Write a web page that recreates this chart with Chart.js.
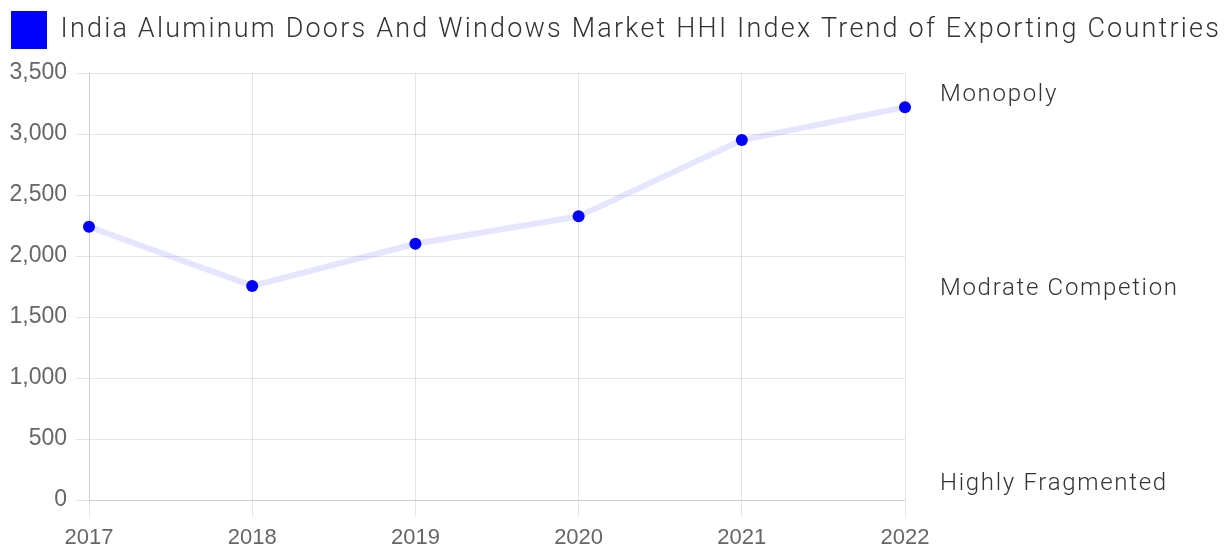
<!DOCTYPE html>
<html>
<head>
<meta charset="utf-8">
<script src="https://cdn.jsdelivr.net/npm/chart.js@4/dist/chart.umd.min.js"></script>
<style>
  body { margin: 0; background: #fff; }
  #wrap { width: 1227px; height: 549px; }
</style>
</head>
<body>
<div id="wrap"><canvas id="hhi-chart"></canvas></div>
<script>
const years = ['2017', '2018', '2019', '2020', '2021', '2022'];
const hhiValues = [2240, 1755, 2100, 2325, 2950, 3220];
const seriesLabel = 'India Aluminum Doors And Windows Market HHI Index Trend of Exporting Countries';
const levelTicks = [130, 1730, 3320];
const levelLabels = ['Highly Fragmented', 'Modrate Competion', 'Monopoly'];

// run a draw function with canvas letter spacing on
const spaced = (obj, name, spacing) => {
    const orig = obj[name];
    obj[name] = function () {
        const ctx = this.ctx;
        const old = ctx.letterSpacing;
        ctx.letterSpacing = spacing;
        orig.apply(this, arguments);
        ctx.letterSpacing = old;
    };
};

const textTweaks = {
    id: 'textTweaks',
    beforeInit(chart) {
        const fit = chart.legend.fit;
        chart.legend.fit = function () {
            fit.call(this);
            this.height += 14;
        };
        spaced(chart.legend, 'draw', '2.2px');
    },
    afterUpdate(chart) {
        const s = chart.scales.y1;
        if (s && !s._spaced) {
            spaced(s, 'drawLabels', '1.7px');
            s._spaced = true;
        }
    }
};

new Chart(document.getElementById('hhi-chart'), {
    type: 'line',
    data: {
        labels: years,
        datasets: [{
            label: seriesLabel,
            data: hhiValues,
            yAxisID: 'y',
            borderColor: 'rgba(0, 0, 255, 0.1)',
            backgroundColor: 'blue',
            borderWidth: 6,
            pointRadius: 6,
            pointHoverRadius: 6,
            pointBackgroundColor: 'blue',
            pointBorderColor: 'blue',
            pointBorderWidth: 0,
            tension: 0
        }]
    },
    plugins: [textTweaks],
    options: {
        responsive: true,
        maintainAspectRatio: false,
        animation: false,
        layout: { padding: 0 },
        plugins: {
            tooltip: { enabled: false },
            legend: {
                align: 'start',
                labels: {
                    boxWidth: 36,
                    boxHeight: 38,
                    padding: 11,
                    color: '#333',
                    font: { family: 'Roboto', size: 27, weight: 300 },
                    generateLabels: (chart) => {
                        const items = Chart.defaults.plugins.legend.labels.generateLabels(chart);
                        items.forEach(it => { it.lineWidth = 0; it.fillStyle = 'blue'; });
                        return items;
                    }
                }
            }
        },
        scales: {
            x: {
                offset: false,
                grid: { color: 'rgba(0,0,0,0.1)', tickLength: 17 },
                ticks: { color: '#666', font: { family: 'Liberation Sans', size: 22 }, padding: 8, maxRotation: 0 },
                afterFit: (axis) => { axis.height = 49; }
            },
            y: {
                min: 0,
                max: 3500,
                ticks: {
                    stepSize: 500,
                    color: '#666',
                    font: { family: 'Liberation Sans', size: 23 },
                    padding: 8,
                    callback: (v) => v.toLocaleString('en-US')
                },
                grid: { color: 'rgba(0,0,0,0.1)', tickLength: 14 },
                afterFit: (axis) => { axis.width = 89; }
            },
            y1: {
                position: 'right',
                min: 0,
                max: 3500,
                grid: { display: false },
                border: { display: false },
                afterBuildTicks: (axis) => {
                    axis.ticks = levelTicks.map(v => ({ value: v }));
                },
                ticks: {
                    color: '#333',
                    padding: 27,
                    font: { family: 'Roboto', size: 24, weight: 300 },
                    callback: (v) => levelLabels[levelTicks.indexOf(v)]
                },
                afterFit: (axis) => { axis.width = 322; }
            }
        }
    }
});
</script>
</body>
</html>
